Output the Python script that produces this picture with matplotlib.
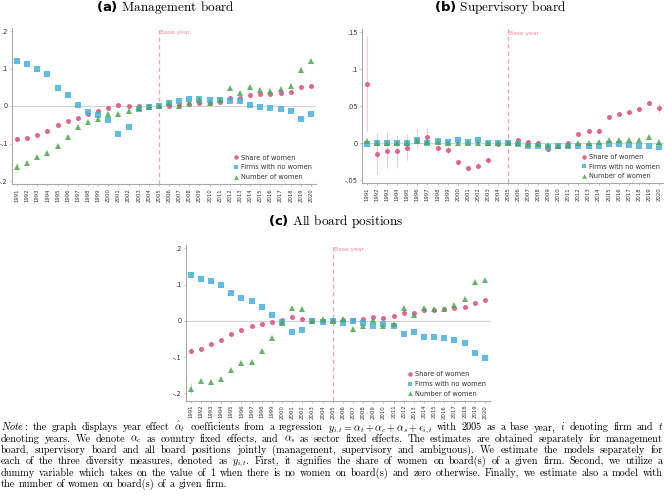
import matplotlib
matplotlib.use('Agg')
import matplotlib.pyplot as plt

plt.rcParams['mathtext.fontset'] = 'cm'

years = list(range(1991, 2021))
year_labels = [str(y) for y in years]

# (a) Management board
a_share = [-0.089, -0.086, -0.078, -0.067, -0.052, -0.041, -0.031, -0.022, -0.014, -0.004,
           0.003, 0.001, 0.000, -0.001, 0.000, 0.000, 0.002, 0.005, 0.008, 0.008,
           0.010, 0.021, 0.022, 0.029, 0.032, 0.033, 0.035, 0.037, 0.050, 0.054]
a_nowomen = [0.121, 0.111, 0.098, 0.086, 0.049, 0.029, 0.002, -0.015, -0.024, -0.038,
             -0.074, -0.055, -0.009, -0.002, 0.000, 0.009, 0.013, 0.019, 0.018, 0.017,
             0.017, 0.013, 0.013, 0.004, -0.003, -0.006, -0.009, -0.014, -0.035, -0.020]
a_number = [-0.164, -0.152, -0.137, -0.125, -0.106, -0.082, -0.055, -0.042, -0.034, -0.020,
            -0.020, -0.014, -0.005, -0.002, 0.000, 0.007, 0.001, 0.008, 0.015, 0.009,
            0.016, 0.047, 0.036, 0.052, 0.043, 0.041, 0.045, 0.053, 0.095, 0.120]

# (b) Supervisory board
b_share = [0.080, -0.014, -0.010, -0.011, -0.006, 0.005, 0.009, -0.006, -0.009, -0.025,
           -0.033, -0.030, -0.023, -0.001, 0.000, 0.004, 0.002, 0.000, -0.007, -0.003,
           0.000, 0.013, 0.016, 0.017, 0.035, 0.040, 0.043, 0.046, 0.055, 0.048]
b_share_lo = [0.016, -0.041, -0.033, -0.033, -0.022, -0.006, -0.002, -0.013, -0.014, -0.029,
              -0.036, -0.033, -0.026, -0.003, 0.000, 0.002, 0.000, -0.002, -0.009, -0.005,
              -0.002, 0.011, 0.014, 0.015, 0.033, 0.038, 0.041, 0.044, 0.052, 0.041]
b_share_hi = [0.145, 0.014, 0.016, 0.011, 0.012, 0.019, 0.021, 0.001, -0.003, -0.021,
              -0.030, -0.027, -0.020, 0.001, 0.000, 0.006, 0.004, 0.002, -0.005, -0.001,
              0.002, 0.015, 0.018, 0.019, 0.037, 0.042, 0.045, 0.048, 0.058, 0.055]
b_nowomen = [-0.001, 0.001, 0.000, 0.000, 0.001, 0.004, 0.001, 0.003, 0.002, 0.004,
             0.002, 0.004, 0.000, 0.000, 0.000, -0.001, -0.003, -0.003, -0.005, -0.003,
             -0.004, -0.004, -0.003, -0.003, -0.001, -0.001, -0.002, -0.003, -0.003, -0.005]
b_number = [0.003, 0.001, 0.001, 0.000, 0.001, 0.003, 0.002, 0.002, 0.001, 0.000,
            0.000, 0.000, 0.000, 0.000, 0.000, 0.000, -0.001, -0.001, -0.002, -0.003,
            -0.002, 0.001, 0.001, 0.002, 0.004, 0.005, 0.005, 0.005, 0.008, 0.002]

# (c) All board positions
c_share = [-0.082, -0.078, -0.063, -0.052, -0.036, -0.026, -0.015, -0.009, -0.003, 0.001,
           0.010, 0.006, 0.000, -0.001, 0.000, 0.002, 0.003, 0.006, 0.010, 0.009,
           0.012, 0.022, 0.023, 0.029, 0.031, 0.032, 0.035, 0.038, 0.049, 0.057]
c_nowomen = [0.126, 0.114, 0.110, 0.099, 0.077, 0.064, 0.056, 0.037, 0.017, -0.004,
             -0.031, -0.024, 0.000, -0.003, 0.000, -0.005, 0.000, -0.006, -0.014, -0.009,
             -0.013, -0.036, -0.031, -0.044, -0.045, -0.047, -0.053, -0.062, -0.089, -0.103]
c_number = [-0.187, -0.165, -0.168, -0.159, -0.136, -0.117, -0.113, -0.083, -0.048, -0.006,
            0.035, 0.034, 0.000, 0.006, 0.000, 0.006, -0.023, -0.015, 0.001, -0.015,
            -0.010, 0.035, 0.017, 0.036, 0.032, 0.034, 0.044, 0.061, 0.106, 0.113]

# visible confidence half-widths (first year) for panels a and c
a_err_1991 = [0.008, 0.007, 0.012]
c_err_1991 = [0.007, 0.008, 0.015]

series_labels = ["Share of women", "Firms with no women", "Number of women"]
titles = ["(a)", "(b)", "(c)"]
title_texts = ["Management board", "Supervisory board", "All board positions"]

a_yticks = [-0.2, -0.1, 0.0, 0.1, 0.2]
a_yticklabels = ["-.2", "-.1", "0", ".1", ".2"]
b_yticks = [-0.05, 0.0, 0.05, 0.1, 0.15]
b_yticklabels = ["-.05", "0", ".05", ".1", ".15"]

PINK = "#dd4a7a"
BLUE = "#45b1dc"
GREEN = "#4aa84e"
colors = [PINK, BLUE, GREEN]
markers = ['o', 's', '^']
msizes = [3.6, 3.8, 3.8]

W, H = 664, 499
fig = plt.figure(figsize=(W / 100, H / 100), dpi=100)


def px_axes(left, top, right, bottom):
    return fig.add_axes([left / W, 1 - bottom / H, (right - left) / W, (bottom - top) / H])


def panel(ax, data, ylim, yticks, yticklabels, errs=None, custom_err=None):
    ax.axhline(0, color='#d2d2d2', lw=0.8, zorder=0)
    ax.axvline(2005, color='#f5a3ad', ls=(0, (3.5, 2.5)), lw=0.9, zorder=0)
    ax.text(2005.15, ylim[1] - 0.012 * (ylim[1] - ylim[0]), "Base year", color='#f08a98',
            fontsize=4.3, va='top', ha='left')
    handles = []
    for i, vals in enumerate(data):
        if errs is not None and errs[i] > 0:
            ax.vlines(years[0], vals[0] - errs[i], vals[0] + errs[i], color=colors[i],
                      alpha=0.35, lw=0.8, zorder=1)
        h, = ax.plot(years, vals, ls='none', marker=markers[i], ms=msizes[i], mew=0,
                     color=colors[i], alpha=0.85, zorder=2 + i, label=series_labels[i])
        handles.append(h)
    if custom_err is not None:
        lo, hi = custom_err
        ax.vlines(years, lo, hi, color=PINK, alpha=0.3, lw=0.8, zorder=1)
    ax.set_xlim(1990.5, 2020.5)
    ax.set_ylim(*ylim)
    ax.set_xticks(years)
    ax.set_xticklabels(year_labels, rotation=90, fontsize=3.9, color='#333333')
    ax.set_yticks(yticks)
    ax.set_yticklabels(yticklabels, fontsize=4.8, color='#333333')
    for s in ['top', 'right']:
        ax.spines[s].set_visible(False)
    for s in ['left', 'bottom']:
        ax.spines[s].set_color('#a8a8a8')
        ax.spines[s].set_linewidth(0.8)
    ax.tick_params(axis='both', length=1.5, width=0.5, color='#a8a8a8', pad=1.5)
    leg = ax.legend(handles=handles, loc='lower right', frameon=False, fontsize=4.8,
                    handletextpad=0.1, labelspacing=0.55, borderaxespad=0.2,
                    handlelength=1.2, markerscale=0.9)
    for t in leg.get_texts():
        t.set_color('#333333')


ax_a = px_axes(12, 28, 316, 184)
panel(ax_a, [a_share, a_nowomen, a_number], (-0.208, 0.208), a_yticks, a_yticklabels,
      errs=a_err_1991)
ax_b = px_axes(362, 29, 664, 183.3)
panel(ax_b, [b_share, b_nowomen, b_number], (-0.054, 0.1545), b_yticks, b_yticklabels,
      custom_err=(b_share_lo, b_share_hi))
ax_c = px_axes(185.7, 245, 490, 400.7)
panel(ax_c, [c_share, c_nowomen, c_number], (-0.22, 0.209), a_yticks, a_yticklabels,
      errs=c_err_1991)

title_pos = [(165, 8), (500, 8), (336, 221)]
for (tx, ty), lab, txt in zip(title_pos, titles, title_texts):
    fig.text(tx / W, 1 - ty / H, r"$\mathbf{" + lab + r"}$ " + txt, family='cmr10',
             math_fontfamily='dejavusans', fontsize=9.5, ha='center', va='center')

# Justified note
note_lines = [
    r"$\mathit{Note:}$ the graph displays year effect $\hat{\alpha}_t$ coefficients from a regression $y_{i,t}=\alpha_t+\alpha_c+\alpha_s+\epsilon_{i,t}$ with 2005 as a base year, $i$ denoting firm and $t$",
    r"denoting years. We denote $\alpha_c$ as country fixed effects, and $\alpha_s$ as sector fixed effects. The estimates are obtained separately for management",
    r"board, supervisory board and all board positions jointly (management, supervisory and ambiguous). We estimate the models separately for",
    r"each of the three diversity measures, denoted as $y_{i,t}$. First, it signifies the share of women on board(s) of a given firm. Second, we utilize a",
    r"dummy variable which takes on the value of 1 when there is no women on board(s) and zero otherwise. Finally, we estimate also a model with",
    r"the number of women on board(s) of a given firm.",
]
renderer = fig.canvas.get_renderer()
x_left, x_right = 1.0, 663.0
avail = x_right - x_left
y0, dy = 430.5, 11.25


def measure(fs):
    allw = []
    for line in note_lines:
        ws = []
        for w in line.split(' '):
            t = fig.text(0, 0, w, family='cmr10', fontsize=fs)
            ws.append(t.get_window_extent(renderer).width)
            t.remove()
        allw.append(ws)
    return allw


base_fs = 7.0
wm = measure(base_fs)
ratios = []
for ws in wm[:-1]:
    natural = sum(ws) + 0.333 * base_fs * 100 / 72 * (len(ws) - 1)
    ratios.append(avail / natural)
note_fs = base_fs * min(ratios) * 0.96

for li, line in enumerate(note_lines):
    words = line.split(' ')
    texts = []
    widths = []
    for w in words:
        t = fig.text(0, 1 - (y0 + li * dy) / H, w, family='cmr10', fontsize=note_fs,
                     ha='left', va='baseline')
        texts.append(t)
        widths.append(t.get_window_extent(renderer).width)
    last = li == len(note_lines) - 1
    if last:
        space = 0.333 * note_fs * 100 / 72
    else:
        space = (avail - sum(widths)) / (len(words) - 1)
    x = x_left
    for t, wd in zip(texts, widths):
        t.set_x(x / W)
        x += wd + space

fig.savefig('out.png', dpi=100)
